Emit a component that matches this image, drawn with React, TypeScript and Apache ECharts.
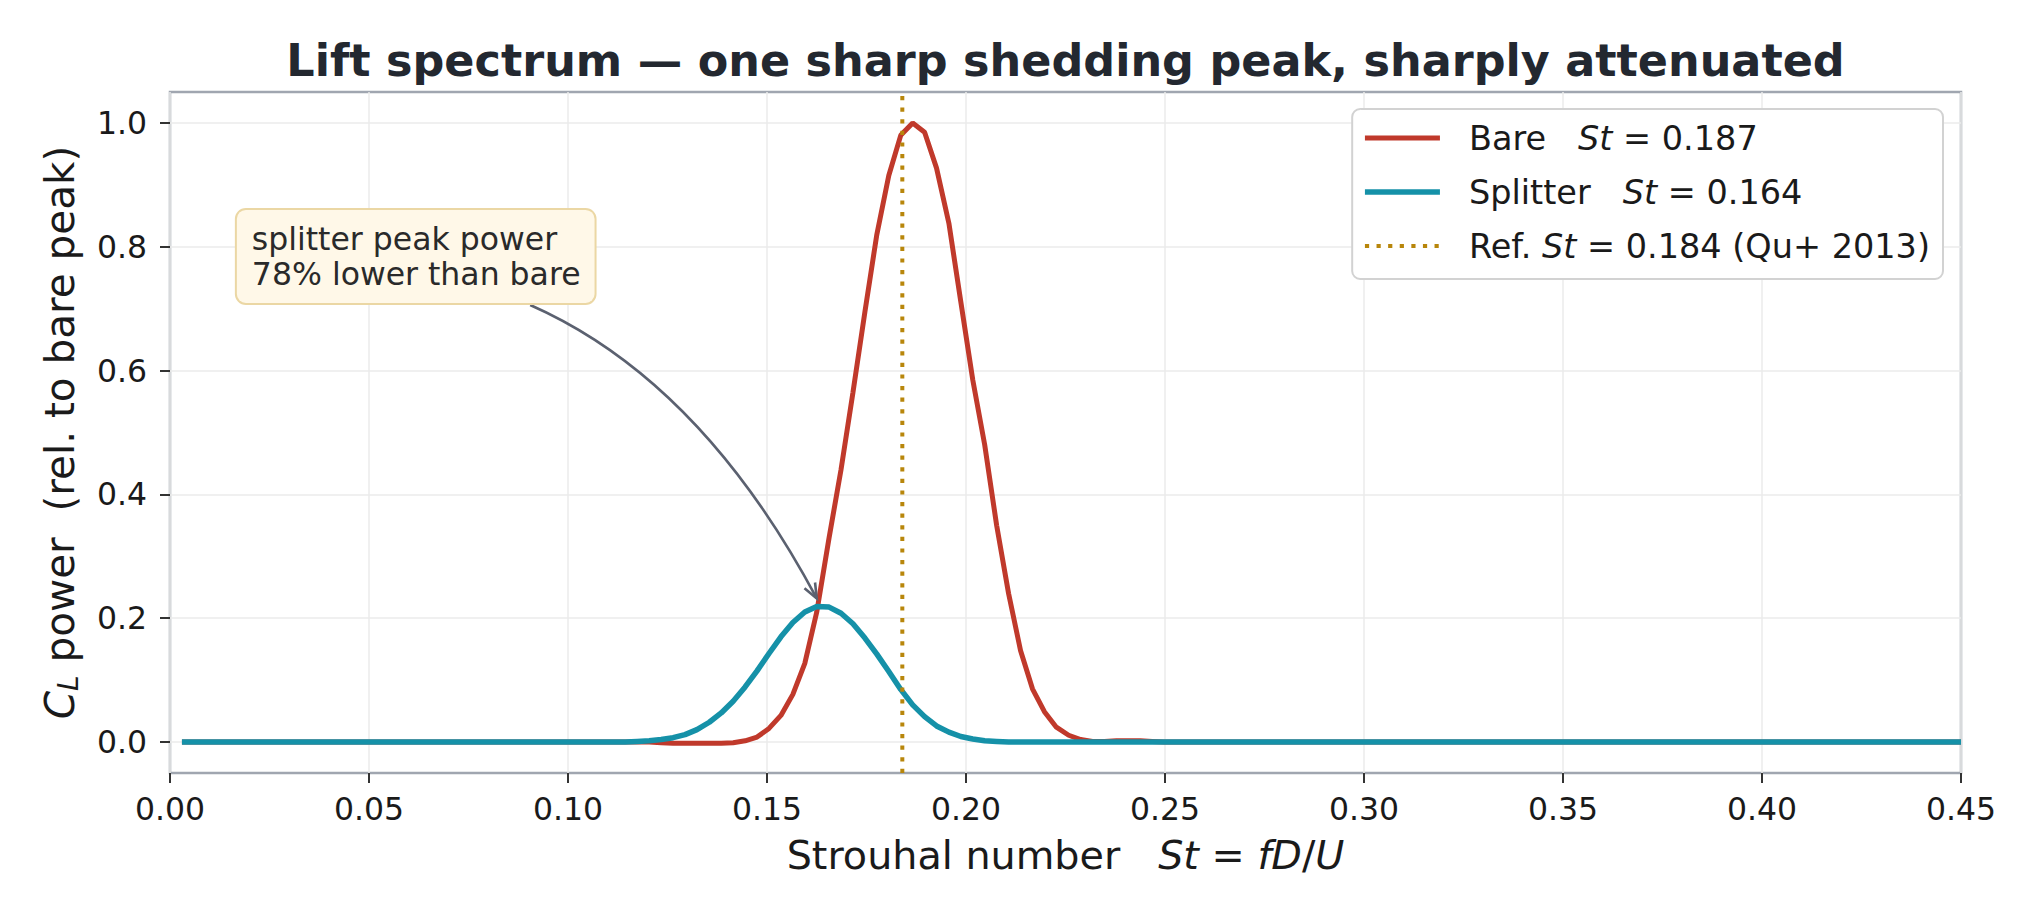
import React, { useEffect, useRef } from 'react';
import * as echarts from 'echarts';

// ---------- data ----------
const ST = [
  0.003,
  0.1144, 0.1174, 0.1204, 0.1234, 0.1264, 0.1294, 0.1324, 0.1355, 0.1385, 0.1415,
  0.1445, 0.1475, 0.1505, 0.1535, 0.1565, 0.1595, 0.1625, 0.1656, 0.1686, 0.1716,
  0.1746, 0.1776, 0.1806, 0.1836, 0.1866, 0.1896, 0.1926, 0.1957, 0.1987, 0.2017,
  0.2047, 0.2077, 0.2107, 0.2137, 0.2167, 0.2197, 0.2227, 0.2258, 0.2288, 0.2318,
  0.2348, 0.2378, 0.2408, 0.2438, 0.2468, 0.2498,
  0.45,
];
const BARE = [
  0,
  0, 0, 0, -0.001, -0.002, -0.002, -0.002, -0.002, -0.002, -0.001,
  0.002, 0.008, 0.022, 0.043, 0.077, 0.127, 0.21, 0.33, 0.44, 0.565,
  0.695, 0.82, 0.915, 0.98, 1.0, 0.985, 0.927, 0.838, 0.711, 0.585,
  0.48, 0.35, 0.24, 0.148, 0.086, 0.049, 0.024, 0.011, 0.004, 0.001,
  0.001, 0.002, 0.002, 0.002, 0.001, 0,
  0,
];
const SPLITTER = [
  0,
  0, 0.001, 0.002, 0.004, 0.007, 0.012, 0.02, 0.032, 0.047, 0.066,
  0.089, 0.115, 0.143, 0.17, 0.193, 0.21, 0.219, 0.218, 0.208, 0.191,
  0.168, 0.142, 0.114, 0.085, 0.06, 0.041, 0.026, 0.016, 0.009, 0.005,
  0.002, 0.001, 0, 0, 0, 0, 0, 0, 0, 0,
  0, 0, 0, 0, 0, 0,
  0,
];
const REF_ST = 0.184;
const X_MIN = 0;
const X_MAX = 0.45;
const X_INTERVAL = 0.05;
const Y_MIN = -0.05;
const Y_MAX = 1.05;
const Y_TICKS = [0, 0.2, 0.4, 0.6, 0.8, 1.0];
const LEGEND_TEXT: Record<string, string> = {
  Bare: 'Bare   {i|St} = 0.187',
  Splitter: 'Splitter   {i|St} = 0.164',
  'Ref.': 'Ref. {i|St} = 0.184 (Qu+ 2013)',
};
const TITLE = 'Lift spectrum — one sharp shedding peak, sharply attenuated';
const ANNOT_TEXT = 'splitter peak power\n78% lower than bare';
// annotation anchors in data coordinates
const ANNOT_BOX_AT = [0.0168, 0.8595];
const ARROW_FROM = [0.0905, 0.706];
const ARROW_CTRL = [0.1332, 0.585];
const ARROW_TO = [0.1625, 0.232];

// ---------- layout / style ----------
const W = 2039;
const H = 919;
const GRID = { left: 170, right: 78, top: 92, bottom: 146 };
const FONT = 'DejaVu Sans';
const TXT = '#1a1a1a';
const RED = '#c0392b';
const CYAN = '#1591a8';
const GOLD = '#b8860b';
const SPINE = '#a0a6b0';
const GRIDLINE = '#ebebeb';

export default function App() {
  const ref = useRef<HTMLDivElement>(null);

  useEffect(() => {
    if (!ref.current) return;
    const chart = echarts.init(ref.current, undefined, { renderer: 'svg', width: W, height: H });

    const option: any = {
      animation: false,
      backgroundColor: '#ffffff',
      textStyle: { fontFamily: FONT },
      grid: {
        left: GRID.left,
        right: GRID.right,
        top: GRID.top,
        bottom: GRID.bottom,
        show: true,
        borderColor: SPINE,
        borderWidth: 2.5,
        backgroundColor: 'transparent',
        containLabel: false,
        outerBoundsMode: 'none',
      },
      legend: {
        orient: 'vertical',
        right: W - 1943,
        top: 109,
        padding: [9, 13, 13, 10],
        itemWidth: 75,
        itemHeight: 20,
        itemGap: 14,
        selectedMode: false,
        backgroundColor: '#ffffff',
        borderColor: '#d2d2d2',
        borderWidth: 2,
        borderRadius: 8,
        data: ['Bare', 'Splitter', 'Ref.'],
        itemStyle: { opacity: 0 },
        lineStyle: { width: 'inherit', type: 'inherit', opacity: 1 },
        formatter: (name: string) => LEGEND_TEXT[name] || name,
        textStyle: {
          fontFamily: FONT,
          fontSize: 33.5,
          color: TXT,
          lineHeight: 40,
          padding: [0, 0, 0, 24],
          rich: {
            i: { fontFamily: FONT, fontSize: 33.5, fontStyle: 'italic', color: TXT, lineHeight: 40 },
          },
        },
      },
      xAxis: {
        type: 'value',
        min: X_MIN,
        max: X_MAX,
        interval: X_INTERVAL,
        name: 'Strouhal number   {i|St} = {i|fD}/{i|U}',
        nameLocation: 'middle',
        nameGap: 60,
        nameMoveOverlap: false,
        nameTextStyle: {
          fontFamily: FONT,
          fontSize: 39.7,
          color: TXT,
          lineHeight: 44,
          rich: {
            i: { fontFamily: FONT, fontSize: 39.7, fontStyle: 'italic', color: TXT, lineHeight: 44 },
          },
        },
        axisLine: { show: false, onZero: false },
        axisTick: { show: true, length: 10, lineStyle: { color: '#333333', width: 2 } },
        axisLabel: {
          fontFamily: FONT,
          fontSize: 31.5,
          color: TXT,
          margin: 20,
          formatter: (v: number) => v.toFixed(2),
        },
        splitLine: { show: true, lineStyle: { color: GRIDLINE, width: 1.5 } },
      },
      yAxis: {
        type: 'value',
        min: Y_MIN,
        max: Y_MAX,
        name: '{i|C}{sub|L} power  (rel. to bare peak)',
        nameLocation: 'middle',
        nameGap: 88,
        nameMoveOverlap: false,
        nameTextStyle: {
          fontFamily: FONT,
          fontSize: 40.5,
          color: TXT,
          lineHeight: 44,
          rich: {
            i: { fontFamily: FONT, fontSize: 40.5, fontStyle: 'italic', color: TXT, lineHeight: 44 },
            sub: {
              fontFamily: FONT,
              fontSize: 28,
              fontStyle: 'italic',
              color: TXT,
              lineHeight: 24,
              verticalAlign: 'bottom',
            },
          },
        },
        axisLine: { show: false, onZero: false },
        axisTick: {
          show: true,
          length: 10,
          customValues: Y_TICKS,
          lineStyle: { color: '#333333', width: 2 },
        },
        axisLabel: {
          fontFamily: FONT,
          fontSize: 31.5,
          color: TXT,
          margin: 23,
          customValues: Y_TICKS,
          formatter: (v: number) => v.toFixed(1),
        },
        splitLine: { show: true, lineStyle: { color: GRIDLINE, width: 1.5 } },
      },
      series: [
        {
          name: 'Bare',
          type: 'line',
          symbol: 'none',
          showSymbol: false,
          data: ST.map((x, i) => [x, BARE[i]]),
          lineStyle: { color: RED, width: 5 },
          itemStyle: { color: RED },
          z: 2,
        },
        {
          name: 'Splitter',
          type: 'line',
          symbol: 'none',
          showSymbol: false,
          data: ST.map((x, i) => [x, SPLITTER[i]]),
          lineStyle: { color: CYAN, width: 5.5 },
          itemStyle: { color: CYAN },
          z: 3,
        },
        {
          name: 'Ref.',
          type: 'line',
          symbol: 'none',
          showSymbol: false,
          data: [
            [REF_ST, Y_MIN],
            [REF_ST, Y_MAX],
          ],
          lineStyle: { color: GOLD, width: 4, type: [4.2, 7.4], cap: 'butt' },
          itemStyle: { color: GOLD },
          z: 4,
        },
      ],
    };

    chart.setOption(option);

    const px = (p: number[]) => chart.convertToPixel({ gridIndex: 0 }, p) as number[];
    const boxAt = px(ANNOT_BOX_AT);
    const s = px(ARROW_FROM);
    const c = px(ARROW_CTRL);
    const e = px(ARROW_TO);
    const dx = e[0] - c[0];
    const dy = e[1] - c[1];
    const len = Math.hypot(dx, dy) || 1;
    const ux = dx / len;
    const uy = dy / len;
    const headLen = 16;
    const ang = (22 * Math.PI) / 180;
    const rot = (a: number) => [
      e[0] - headLen * (ux * Math.cos(a) - uy * Math.sin(a)),
      e[1] - headLen * (ux * Math.sin(a) + uy * Math.cos(a)),
    ];
    const h1 = rot(ang);
    const h2 = rot(-ang);

    const plotCenterX = GRID.left + (W - GRID.left - GRID.right) / 2;

    chart.setOption({
      graphic: [
        {
          type: 'text',
          x: plotCenterX,
          y: 60,
          z: 100,
          style: {
            text: TITLE,
            fontFamily: FONT,
            fontSize: 44.5,
            fontWeight: 'bold',
            fill: '#232830',
            align: 'center',
            verticalAlign: 'middle',
          },
        },
        {
          type: 'bezierCurve',
          z: 100,
          shape: { x1: s[0], y1: s[1], x2: e[0], y2: e[1], cpx1: c[0], cpy1: c[1] },
          style: { stroke: '#5b6170', lineWidth: 2.6, fill: 'none' },
        },
        {
          type: 'polyline',
          z: 100,
          shape: { points: [h1, e, h2] },
          style: { stroke: '#5b6170', lineWidth: 2.6, fill: 'none' },
        },
        {
          type: 'text',
          x: boxAt[0],
          y: boxAt[1],
          z: 101,
          style: {
            text: ANNOT_TEXT,
            fontFamily: FONT,
            fontSize: 31.5,
            lineHeight: 35.5,
            fill: '#2a2a2a',
            align: 'left',
            verticalAlign: 'top',
            backgroundColor: '#fff8e8',
            borderColor: '#ebd7a4',
            borderWidth: 2,
            borderRadius: 9,
            padding: [11, 14, 11, 15],
          },
        },
      ],
    });

    return () => {
      chart.dispose();
    };
  }, []);

  return (
    <div
      ref={ref}
      style={{ position: 'fixed', left: 0, top: 0, width: W, height: H, background: '#ffffff' }}
    />
  );
}
